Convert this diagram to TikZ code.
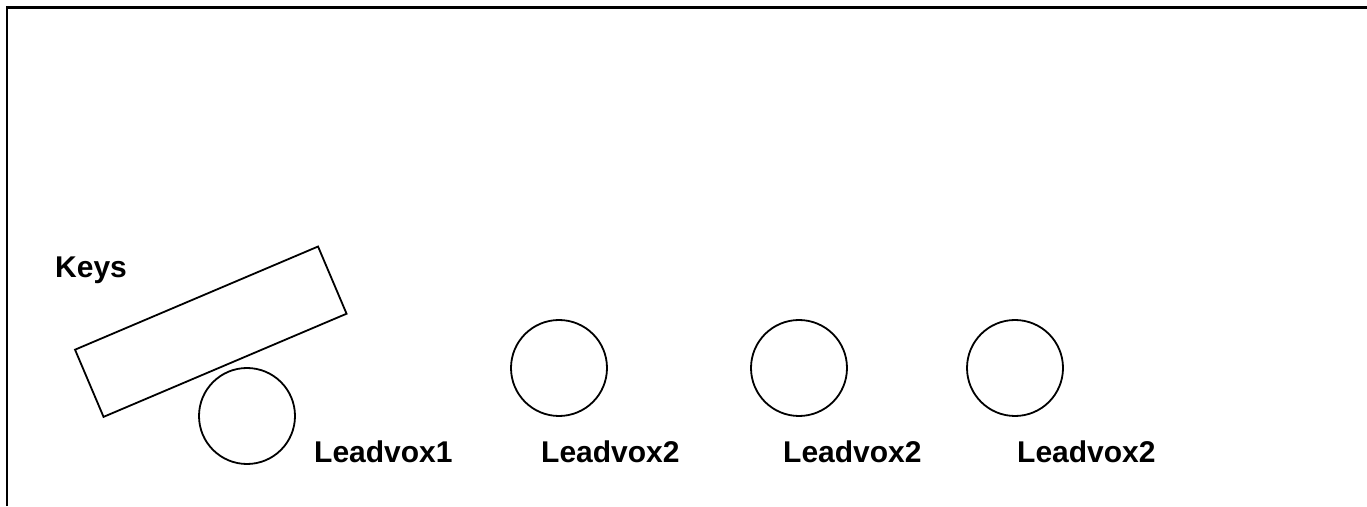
\documentclass[tikz,border=0pt]{standalone}
\usepackage{fontspec}
\setmainfont{Liberation Sans}
\begin{document}
\begin{tikzpicture}[x=1pt,y=1pt,
  frameline/.style={line width=2.5pt},
  outl/.style={draw,line width=1.8pt,inner sep=0pt},
  drum/.style={outl,circle,minimum size=96pt},
  lbl/.style={anchor=base west,inner sep=0pt,font=\fontsize{30}{36}\bfseries\selectfont}]
\useasboundingbox (0,0) rectangle (1367,506);
\coordinate (fb) at (7,0);
\coordinate (fc) at (7,498.5);
\coordinate (fr) at (1367,498.5);
\draw[frameline] (fb) -- (fc) -- (fr);
\node[outl,rectangle,minimum width=264pt,minimum height=73pt,rotate=23] (keys) at (210.8,174.3) {};
\node[drum] (c1) at (247,90) {};
\node[drum] (c2) at (559,138) {};
\node[drum] (c3) at (799,138) {};
\node[drum] (c4) at (1015,138) {};
\node[lbl] (tk) at (55,228) {Keys};
\node[lbl] (t1) at (314,44) {Leadvox1};
\node[lbl] (t2) at (541,44) {Leadvox2};
\node[lbl] (t3) at (783,44) {Leadvox2};
\node[lbl] (t4) at (1017,44) {Leadvox2};
\end{tikzpicture}
\end{document}
